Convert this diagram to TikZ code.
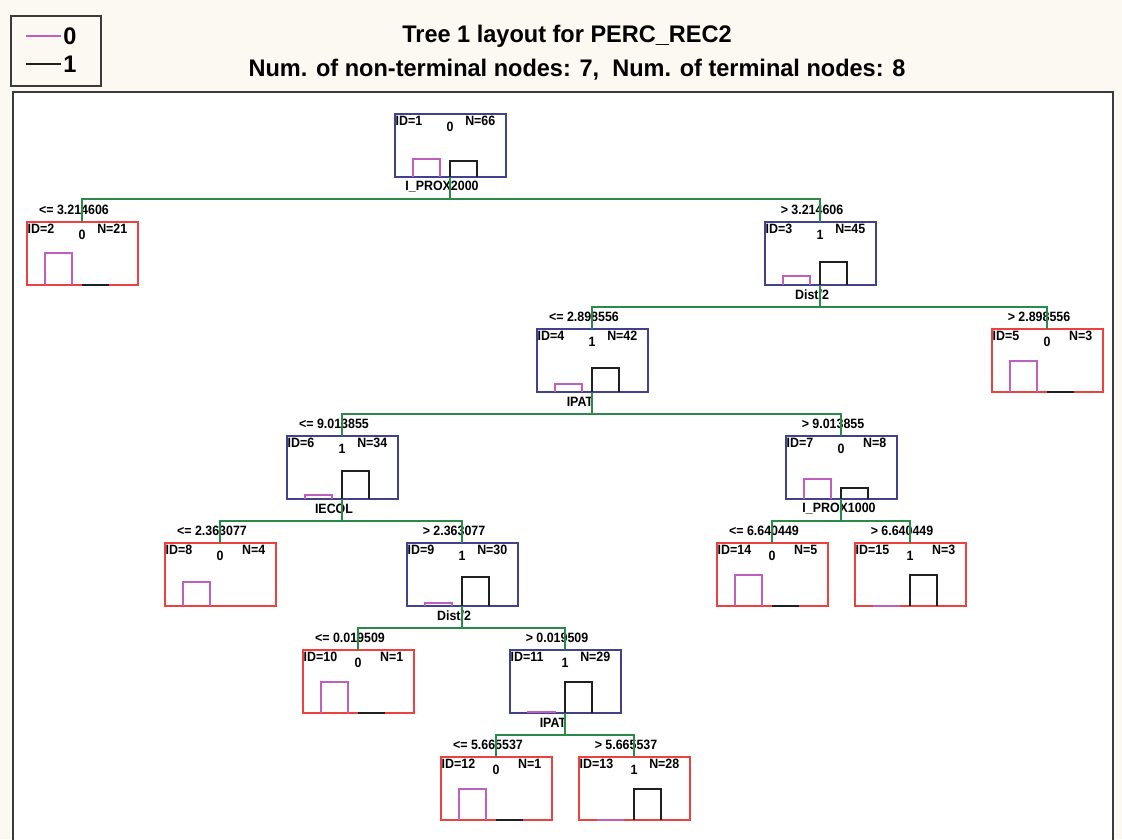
\documentclass[tikz,border=0pt]{standalone}
\usepackage{fontspec}
\setmainfont{Liberation Sans}
\newfontfamily\titlefont[FakeStretch=0.98]{Liberation Sans}
\newfontfamily\treefont[FakeStretch=0.92]{Liberation Sans}
\usepackage{tikz}
\usetikzlibrary{positioning}
\definecolor{pageBg}{HTML}{FBF9F1}
\definecolor{frameEdge}{HTML}{3A3A3A}
\definecolor{ntEdge}{HTML}{414190}
\definecolor{tmEdge}{HTML}{EF4040}
\definecolor{barZero}{HTML}{BF5FBF}
\definecolor{barOne}{HTML}{202020}
\definecolor{splitEdge}{HTML}{2A8A4A}
\tikzset{
  treebox/.style={line width=2pt,minimum width=111pt,minimum height=63pt,inner sep=0pt,outer sep=0pt},
  treetxt/.style={font=\treefont\bfseries\fontsize{13.5}{13.5}\selectfont,inner sep=0pt,text=black},
  titletxt/.style={font=\titlefont\bfseries\fontsize{24}{26}\selectfont,inner sep=0pt,text=black},
  bar0/.style={draw=barZero,line width=1.6pt},
  bar1/.style={draw=barOne,line width=1.6pt},
  split/.style={draw=splitEdge,line width=1.5pt},
}
\begin{document}
\begin{tikzpicture}[x=1pt,y=-1pt]
  \useasboundingbox (0,0) rectangle (1122,839);
  \fill[pageBg] (0,0) rectangle (1122,839);
  \filldraw[fill=white,draw=frameEdge,line width=1.5pt] (13,92) rectangle (1113,850);

  % legend and title
  \node[draw=frameEdge,line width=1.5pt,minimum width=90pt,minimum height=70pt,inner sep=0pt] (legend) at (56,51) {};
  \node[titletxt] (leg0) at (70,36) {0};
  \node[titletxt] (leg1) at (70,64) {1};
  \draw[bar0] ([xshift=-2pt]leg0.west) -- ++(-35,0);
  \draw[bar1] ([xshift=-2pt]leg1.west) -- ++(-35,0);
  \node[titletxt] (title) at (567,36) {Tree 1 layout for PERC\_REC2};
  \node[titletxt] (subtitle) at (577,70) {Num. of non-terminal nodes: 7,\ \ Num. of terminal nodes: 8};

  % tree nodes: id / x / y / edge / class / N / bar 0 / bar 1
  \foreach \id/\x/\y/\edge/\cl/\nn/\hm/\hb in {
      1/450/145.5/ntEdge/0/66/18/16,
      2/82/253.5/tmEdge/0/21/32/0,
      3/820/253.5/ntEdge/1/45/9/23,
      4/592/360.5/ntEdge/1/42/8/24,
      5/1047/360.5/tmEdge/0/3/31/0,
      6/342/467.5/ntEdge/1/34/4/28,
      7/841/467.5/ntEdge/0/8/20/11,
      8/220/574.5/tmEdge/0/4/24/-1,
      9/462/574.5/ntEdge/1/30/3/29,
      14/772/574.5/tmEdge/0/5/31/0,
      15/910/574.5/tmEdge/1/3/0/31,
      10/358/681.5/tmEdge/0/1/31/0,
      11/565/681.5/ntEdge/1/29/1/31,
      12/496/788.5/tmEdge/0/1/31/0,
      13/634/788.5/tmEdge/1/28/0/31}{
    \node[treebox,draw=\edge] (n\id) at (\x,\y) {};
    \node[treetxt,anchor=west] (n\id-id) at ([xshift=1pt,yshift=-7pt]n\id.north west) {ID=\id};
    \node[treetxt] (n\id-cl) at ([yshift=-13pt]n\id.north) {\cl};
    \node[treetxt,anchor=east] (n\id-n) at ([xshift=-10pt,yshift=-7pt]n\id.north east) {N=\nn};
    \draw[bar0] ([xshift=-37pt]n\id.south) -- ++(0,-\hm) -- ++(27,0) -- ++(0,\hm);
    \ifdim\hb pt<0pt\else\draw[bar1] (n\id.south) -- ++(0,-\hb) -- ++(27,0) -- ++(0,\hb);\fi
  }

  % split variables
  \node[treetxt] (s1) at ([xshift=-8pt,yshift=-10pt]n1.south) {I\_PROX2000};
  \node[treetxt] (s3) at ([xshift=-8pt,yshift=-10pt]n3.south) {Dist/2};
  \node[treetxt] (s4) at ([xshift=-12pt,yshift=-10pt]n4.south) {IPAT};
  \node[treetxt] (s6) at ([xshift=-8pt,yshift=-10pt]n6.south) {IECOL};
  \node[treetxt] (s7) at ([xshift=-2pt,yshift=-10pt]n7.south) {I\_PROX1000};
  \node[treetxt] (s9) at ([xshift=-8pt,yshift=-10pt]n9.south) {Dist/2};
  \node[treetxt] (s11) at ([xshift=-12pt,yshift=-10pt]n11.south) {IPAT};

  % split thresholds
  \foreach \c/\t in {2/<= 3.214606,3/> 3.214606,4/<= 2.898556,5/> 2.898556,
      6/<= 9.013855,7/> 9.013855,8/<= 2.363077,9/> 2.363077,14/<= 6.640449,15/> 6.640449,
      10/<= 0.019509,11/> 0.019509,12/<= 5.665537,13/> 5.665537}
    {\node[treetxt] (t\c) at ([xshift=-8pt,yshift=12pt]n\c.north) {\t};}

  \foreach \p/\c in {1/2,1/3,3/4,3/5,4/6,4/7,6/8,6/9,7/14,7/15,9/10,9/11,11/12,11/13}
    {\draw[split] (n\p.south) -- ++(0,22) -| (n\c.north);}
\end{tikzpicture}
\end{document}
